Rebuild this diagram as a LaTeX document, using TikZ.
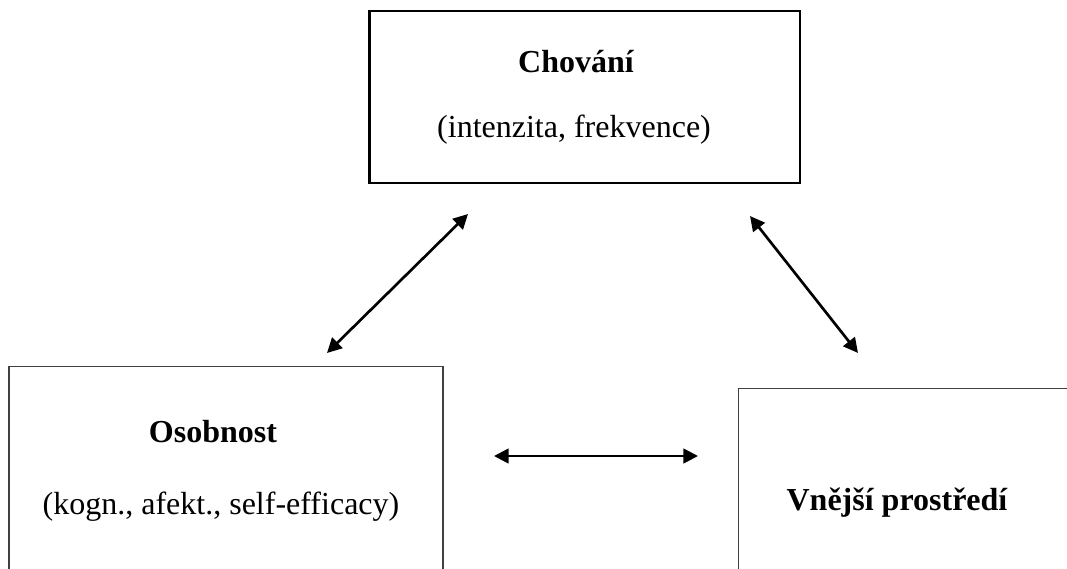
\documentclass[tikz,border=0pt]{standalone}
\usepackage{fontspec}
\setmainfont{Liberation Serif}
\usetikzlibrary{arrows.meta}
\begin{document}
\begin{tikzpicture}[x=0.75pt,y=-0.75pt,
  boxthick/.style={draw=black,line width=2pt,rectangle,inner sep=0pt},
  boxthin/.style={draw=black!75,line width=0.9pt,rectangle,inner sep=0pt},
  lbl/.style={font=\fontsize{24}{28}\selectfont,inner sep=0pt},
  lblb/.style={font=\fontsize{24}{28}\selectfont\bfseries,inner sep=0pt},
  dbl/.style={{Triangle[length=11pt,width=11pt]}-{Triangle[length=11pt,width=11pt]},line width=2pt}
]
\useasboundingbox (0,0) rectangle (1067,568);
\clip (0,0) rectangle (1067,568);
% boxes
\node[boxthick,minimum width=323pt,minimum height=129pt] (top) at (584.5,97) {};
\node[boxthin,minimum width=325.5pt,minimum height=190pt] (left) at (226,493) {};
\node[boxthin,minimum width=286pt,minimum height=190pt] (right) at (929.5,515.5) {};
% labels
\node[lblb] (t1) at (576,62) {Chování};
\node[lbl] (t2) at (574,130) {(intenzita, frekvence)};
\node[lblb] (l1) at (213,432) {Osobnost};
\node[lbl] (l2) at (221,507) {(kogn., afekt., self-efficacy)};
\node[lblb] (r1) at (897,503) {Vnější prostředí};
% arrow end points
\coordinate (a1s) at (327,353);
\coordinate (a1e) at (468,214);
\coordinate (a2s) at (750,216);
\coordinate (a2e) at (858,353);
\coordinate (a3s) at (494,456);
\coordinate (a3e) at (698,456);
\draw[dbl] (a1s) -- (a1e);
\draw[dbl] (a2s) -- (a2e);
\draw[dbl] (a3s) -- (a3e);
\end{tikzpicture}
\end{document}
